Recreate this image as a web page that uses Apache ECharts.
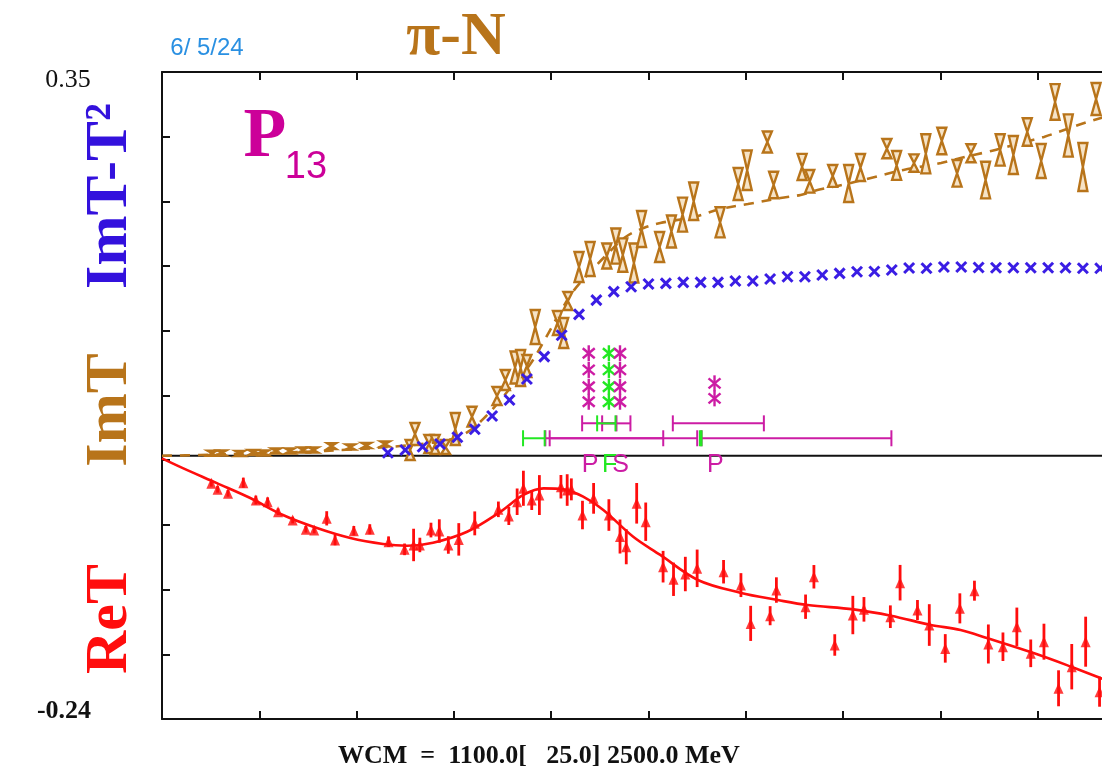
<!DOCTYPE html>
<html><head><meta charset="utf-8">
<script src="https://cdn.jsdelivr.net/npm/echarts@6/dist/echarts.min.js"></script>
<style>html,body{margin:0;padding:0;background:#fff}#c{width:1102px;height:774px}</style>
</head><body><div id="c"></div>
<script>
// ---------- data ----------
const xRange = [1100, 2500];          // WCM in MeV
const yRange = [-0.24, 0.35];
const yTickLabels = ['-0.24', '0.35'];
const axisDivisions = [0, 10];        // 10 equal divisions on both axes

// ImT - T^2 (blue crosses)
const blueMeV = [1425,1450,1475,1500,1525,1550,1575,1600,1625,1650,1675,1700,1725,1750,1775,1800,1825,1850,1875,1900,1925,1950,1975,2000,2025,2050,2075,2100,2125,2150,2175,2200,2225,2250,2275,2300,2325,2350,2375,2400,2425,2450,2475,2500];
const blueVal = [0.0028,0.0053,0.0083,0.0108,0.0169,0.0242,0.0363,0.0509,0.0700,0.0904,0.1100,0.1290,0.1420,0.1497,0.1542,0.1567,0.1573,0.1582,0.1582,0.1582,0.1594,0.1594,0.1612,0.1633,0.1633,0.1649,0.1664,0.1679,0.1681,0.1694,0.1713,0.1710,0.1722,0.1722,0.1717,0.1715,0.1715,0.1715,0.1715,0.1715,0.1710,0.1710,0.1705,0.1700];

// ImT data (hourglass error symbols)
const imtMeV = [1172,1186,1212,1231,1247,1264,1284,1303,1318,1344,1371,1394,1421,1457,1464,1484,1493,1508,1522,1546,1582,1594,1608,1616,1625,1637,1669,1678,1684,1700,1716,1740,1753,1763,1779,1790,1816,1833,1849,1865,1903,1929,1942,1971,1980,2021,2032,2065,2088,2105,2143,2157,2182,2199,2222,2244,2264,2285,2306,2325,2345,2365,2385,2404,2425,2444];
const imtVal = [0.0023,0.0026,0.0021,0.0030,0.0026,0.0044,0.0044,0.0053,0.0053,0.0089,0.0080,0.0094,0.0108,0.0053,0.0199,0.0108,0.0103,0.0080,0.0244,0.0357,0.0545,0.0691,0.0805,0.0801,0.0819,0.1175,0.1211,0.1120,0.1412,0.1722,0.1795,0.1822,0.1913,0.1831,0.1758,0.2068,0.1904,0.2046,0.2199,0.2321,0.2129,0.2479,0.2604,0.2862,0.2470,0.2634,0.2503,0.2552,0.2483,0.2629,0.2801,0.2648,0.2670,0.2754,0.2871,0.2576,0.2759,0.2515,0.2789,0.2743,0.2953,0.2689,0.3227,0.2921,0.2634,0.3254];
const imtErr = [0.0018,0.0018,0.0018,0.0018,0.0018,0.0018,0.0018,0.0023,0.0023,0.0027,0.0018,0.0018,0.0018,0.0091,0.0100,0.0082,0.0087,0.0064,0.0146,0.0091,0.0082,0.0091,0.0146,0.0164,0.0100,0.0155,0.0109,0.0137,0.0082,0.0137,0.0155,0.0114,0.0160,0.0152,0.0178,0.0164,0.0137,0.0146,0.0155,0.0171,0.0137,0.0146,0.0180,0.0096,0.0121,0.0119,0.0103,0.0100,0.0169,0.0123,0.0088,0.0132,0.0079,0.0178,0.0121,0.0121,0.0082,0.0167,0.0143,0.0173,0.0125,0.0155,0.0162,0.0193,0.0219,0.0146];

// ImT fit (dashed)
const imtFitMeV = [1100,1155,1227,1299,1371,1443,1486,1522,1544,1565,1587,1608,1630,1652,1673,1692,1716,1738,1767,1793,1817,1865,1904,1943,1990,2019,2043,2072,2091,2120,2167,2221,2249,2293,2336,2369,2398,2427,2451,2500];
const imtFitVal = [0,0.0007,0.0021,0.0035,0.0057,0.0089,0.0117,0.0162,0.0235,0.0354,0.0509,0.0673,0.0837,0.1074,0.1311,0.1503,0.1676,0.1822,0.1996,0.2077,0.2123,0.2178,0.2251,0.2296,0.2351,0.2379,0.2424,0.2461,0.2488,0.2534,0.2607,0.2670,0.2716,0.2780,0.2853,0.2908,0.2971,0.3035,0.3081,0.3170];

// ReT data (triangles with error bars)
const retMeV = [1171,1180,1195,1217,1235,1252,1267,1288,1307,1319,1337,1349,1376,1399,1426,1449,1462,1471,1487,1499,1512,1527,1550,1584,1599,1611,1620,1632,1643,1674,1683,1689,1705,1721,1743,1759,1768,1783,1796,1821,1836,1853,1870,1908,1933,1947,1975,1984,2026,2038,2068,2094,2110,2148,2162,2187,2204,2227,2248,2269,2289,2310,2330,2350,2369,2390,2409,2429,2449];
const retVal = [-0.0251,-0.0306,-0.0342,-0.0245,-0.0403,-0.0419,-0.0510,-0.0586,-0.0670,-0.0677,-0.0570,-0.0768,-0.0683,-0.0670,-0.0783,-0.0853,-0.0813,-0.0813,-0.0677,-0.0686,-0.0813,-0.0762,-0.0616,-0.0488,-0.0549,-0.0419,-0.0296,-0.0403,-0.0358,-0.0282,-0.0312,-0.0306,-0.0540,-0.0388,-0.0540,-0.0736,-0.0829,-0.0433,-0.0601,-0.1011,-0.1126,-0.1078,-0.1026,-0.1057,-0.1179,-0.1528,-0.1458,-0.1224,-0.1376,-0.1103,-0.1725,-0.1452,-0.1400,-0.1467,-0.1157,-0.1406,-0.1543,-0.1756,-0.1391,-0.1230,-0.1716,-0.1741,-0.1559,-0.1801,-0.1695,-0.2120,-0.1923,-0.1695,-0.2151];
const retErr = [0.003,0.003,0.003,0.0046,0.004,0.004,0.003,0.003,0.003,0.003,0.0065,0.0048,0.0043,0.0046,0.0048,0.0053,0.0148,0.0066,0.0067,0.0107,0.0080,0.0148,0.0109,0.0071,0.0082,0.0121,0.0160,0.0091,0.0182,0.0107,0.0144,0.0100,0.0130,0.0140,0.0144,0.0155,0.0160,0.0185,0.0175,0.0144,0.0152,0.0157,0.0171,0.0107,0.0109,0.0160,0.0087,0.0116,0.0111,0.0107,0.0098,0.0175,0.0112,0.0103,0.0162,0.0091,0.0190,0.0130,0.0137,0.0091,0.0178,0.0130,0.0175,0.0126,0.0164,0.0164,0.0207,0.0228,0.0137];

// ReT fit (solid)
const retFitMeV = [1100,1130,1179,1227,1274,1323,1371,1418,1453,1490,1539,1587,1620,1649,1678,1706,1735,1778,1817,1871,1932,1986,2029,2095,2149,2206,2249,2288,2355,2408,2451,2500];
const retFitVal = [-0.0023,-0.0112,-0.0249,-0.0385,-0.0540,-0.0659,-0.0750,-0.0804,-0.0820,-0.0792,-0.0692,-0.0510,-0.0357,-0.0297,-0.0306,-0.0373,-0.0494,-0.0738,-0.0904,-0.1132,-0.1248,-0.1315,-0.1361,-0.1400,-0.1458,-0.1542,-0.1588,-0.1664,-0.1801,-0.1923,-0.2028,-0.2150];

// resonance markers (asterisks)
const starMeV = [1714,1714,1714,1714,1743,1743,1743,1743,1759,1759,1759,1759,1895,1895];
const starVal = [0.0935,0.0783,0.0630,0.0493,0.0935,0.0783,0.0630,0.0493,0.0935,0.0783,0.0630,0.0493,0.0661,0.0524];
const starKind = ['m','m','m','m','g','g','g','g','m','m','m','m','m','m'];
// resonance width bars
const barFrom = [1704.5,1733.3,1835,1651.6,1657.8,1876.3,1726.1,1619.5,1874.0];
const barTo   = [1753.9,1774.0,1966,1821.2,1870.1,2149.5,1752.5,1650.6,1876.3];
const barVal  = [0.0296,0.0296,0.0296,0.0160,0.0160,0.0160,0.0296,0.0160,0.0160];
const barKind = ['m','m','m','m','m','m','g','g','g'];
// resonance labels
const labMeV = [1716,1744,1760,1896];
const labVal = [-0.0085,-0.0085,-0.0085,-0.0085];
const labText = ['P','F','S','P'];
const labKind = ['m','g','m','m'];

// ---------- styling ----------
const BROWN = '#b8741a', BLUE = '#3a1de4', RED = '#ff0d0d', MAG = '#cc1ca4', GRN = '#22e822';
const kindColor = k => k === 'g' ? GRN : MAG;
const SERIF = '"Liberation Serif", "DejaVu Serif", serif';
const SANS = '"Liberation Sans", "DejaVu Sans", sans-serif';

const chart = echarts.init(document.getElementById('c'), null, {renderer: 'canvas'});

const tickAxis = (pos) => ({
  type: 'value', position: pos, min: axisDivisions[0], max: axisDivisions[1], interval: 1,
  axisLine: {show: true, onZero: false, lineStyle: {color: '#111', width: 2}},
  axisTick: {show: true, inside: true, length: 8, lineStyle: {color: '#111', width: 2}},
  axisLabel: {show: false}, splitLine: {show: false}
});

const zip = (a, b) => a.map((v, i) => [v, b[i]]);
const zip3 = (a, b, c) => a.map((v, i) => [v, b[i], c[i]]);

const option = {
  animation: false,
  backgroundColor: '#fff',
  grid: {left: 162, top: 72, right: -33, bottom: 55, containLabel: false, outerBoundsMode: 'none'},
  xAxis: [
    {type: 'value', min: xRange[0], max: xRange[1], show: false},
    tickAxis('bottom'),
    tickAxis('top')
  ],
  yAxis: [
    {type: 'value', min: yRange[0], max: yRange[1], show: false},
    tickAxis('left')
  ],
  series: [
    { // zero line
      type: 'line', xAxisIndex: 0, yAxisIndex: 0, z: 1,
      data: [[xRange[0], 0], [xRange[1], 0]], showSymbol: false, silent: true,
      lineStyle: {color: '#111', width: 2}
    },
    { // ImT fit (dashed)
      type: 'line', xAxisIndex: 0, yAxisIndex: 0, z: 2, smooth: 0.35,
      data: zip(imtFitMeV, imtFitVal), showSymbol: false,
      lineStyle: {color: BROWN, width: 2.6, type: [10, 8]}
    },
    { // ImT data hourglasses
      type: 'custom', xAxisIndex: 0, yAxisIndex: 0, z: 3,
      data: zip3(imtMeV, imtVal, imtErr),
      renderItem: (params, api) => {
        const x = api.value(0), y = api.value(1), e = api.value(2);
        const c = api.coord([x, y]);
        let top = api.coord([x, y + e])[1], bot = api.coord([x, y - e])[1];
        if (bot - top < 5) { top = c[1] - 2.5; bot = c[1] + 2.5; }
        const w = 4.5;
        return {type: 'polygon',
          shape: {points: [[c[0]-w, top], [c[0]+w, top], [c[0], c[1]], [c[0]+w, bot], [c[0]-w, bot], [c[0], c[1]]]},
          style: {fill: '#f6e3c6', stroke: BROWN, lineWidth: 2.4}};
      }
    },
    { // ImT - T^2 crosses
      type: 'custom', xAxisIndex: 0, yAxisIndex: 0, z: 4,
      data: zip(blueMeV, blueVal),
      renderItem: (params, api) => {
        const c = api.coord([api.value(0), api.value(1)]);
        const s = 5;
        const st = {stroke: BLUE, lineWidth: 3};
        return {type: 'group', children: [
          {type: 'line', shape: {x1: c[0]-s, y1: c[1]-s, x2: c[0]+s, y2: c[1]+s}, style: st},
          {type: 'line', shape: {x1: c[0]-s, y1: c[1]+s, x2: c[0]+s, y2: c[1]-s}, style: st}
        ]};
      }
    },
    { // resonance width bars
      type: 'custom', xAxisIndex: 0, yAxisIndex: 0, z: 5,
      data: barFrom.map((v, i) => [v, barTo[i], barVal[i], i]),
      renderItem: (params, api) => {
        const a = api.coord([api.value(0), api.value(2)]);
        const b = api.coord([api.value(1), api.value(2)]);
        const col = kindColor(barKind[api.value(3)]);
        const st = {stroke: col, lineWidth: 2};
        const h = 8;
        return {type: 'group', children: [
          {type: 'line', shape: {x1: a[0], y1: a[1], x2: b[0], y2: b[1]}, style: st},
          {type: 'line', shape: {x1: a[0], y1: a[1]-h, x2: a[0], y2: a[1]+h}, style: st},
          {type: 'line', shape: {x1: b[0], y1: b[1]-h, x2: b[0], y2: b[1]+h}, style: st}
        ]};
      }
    },
    { // resonance asterisks
      type: 'custom', xAxisIndex: 0, yAxisIndex: 0, z: 6,
      data: starMeV.map((v, i) => [v, starVal[i], i]),
      renderItem: (params, api) => {
        const c = api.coord([api.value(0), api.value(1)]);
        const col = kindColor(starKind[api.value(2)]);
        const st = {stroke: col, lineWidth: 2.4};
        return {type: 'group', children: [
          {type: 'line', shape: {x1: c[0], y1: c[1]-8, x2: c[0], y2: c[1]+8}, style: st},
          {type: 'line', shape: {x1: c[0]-6, y1: c[1]-5, x2: c[0]+6, y2: c[1]+5}, style: st},
          {type: 'line', shape: {x1: c[0]-6, y1: c[1]+5, x2: c[0]+6, y2: c[1]-5}, style: st}
        ]};
      }
    },
    { // resonance labels
      type: 'custom', xAxisIndex: 0, yAxisIndex: 0, z: 6,
      data: labMeV.map((v, i) => [v, labVal[i], i]),
      renderItem: (params, api) => {
        const c = api.coord([api.value(0), api.value(1)]);
        const i = api.value(2);
        return {type: 'text', x: c[0], y: c[1],
          style: {text: labText[i], fill: kindColor(labKind[i]), font: '25px ' + SANS, align: 'center', verticalAlign: 'middle'}};
      }
    },
    { // ReT fit
      type: 'line', xAxisIndex: 0, yAxisIndex: 0, z: 7, smooth: 0.35,
      data: zip(retFitMeV, retFitVal), showSymbol: false,
      lineStyle: {color: RED, width: 2.6}
    },
    { // ReT error bars
      type: 'custom', xAxisIndex: 0, yAxisIndex: 0, z: 8,
      data: zip3(retMeV, retVal, retErr),
      renderItem: (params, api) => {
        const x = api.value(0), y = api.value(1), e = api.value(2);
        const t = api.coord([x, y + e]), b = api.coord([x, y - e]);
        return {type: 'line', shape: {x1: t[0], y1: t[1], x2: b[0], y2: b[1]}, style: {stroke: RED, lineWidth: 2.8}};
      }
    },
    { // ReT triangles
      type: 'scatter', xAxisIndex: 0, yAxisIndex: 0, z: 9,
      data: zip(retMeV, retVal), symbol: 'triangle', symbolSize: [10, 11],
      itemStyle: {color: RED}
    }
  ],
  graphic: [
    {type: 'text', x: 207, y: 48, style: {text: '6/ 5/24', fill: '#2a90e2', font: '24px ' + SANS, align: 'center', verticalAlign: 'middle'}},
    {type: 'text', x: 456, y: 38, style: {text: 'π-N', fill: BROWN, font: 'bold 62px ' + SERIF, align: 'center', verticalAlign: 'middle'}},
    {type: 'text', x: 265, y: 138, style: {text: 'P', fill: '#cc0099', font: 'bold 70px ' + SERIF, align: 'center', verticalAlign: 'middle'}},
    {type: 'text', x: 306, y: 168, style: {text: '13', fill: '#cc0099', font: '38px ' + SANS, align: 'center', verticalAlign: 'middle'}},
    {type: 'text', x: 68, y: 80, style: {text: yTickLabels[1], fill: '#111', font: '26px ' + SERIF, align: 'center', verticalAlign: 'middle'}},
    {type: 'text', x: 64, y: 711, style: {text: yTickLabels[0], fill: '#111', font: 'bold 26px ' + SERIF, align: 'center', verticalAlign: 'middle'}},
    {type: 'text', x: 110, y: 196, rotation: Math.PI / 2, style: {text: 'ImT-T²', fill: '#3311dd', font: 'bold 60px ' + SERIF, align: 'center', verticalAlign: 'middle'}},
    {type: 'text', x: 110, y: 410, rotation: Math.PI / 2, style: {text: 'ImT', fill: BROWN, font: 'bold 60px ' + SERIF, align: 'center', verticalAlign: 'middle'}},
    {type: 'text', x: 110, y: 619, rotation: Math.PI / 2, style: {text: 'ReT', fill: RED, font: 'bold 60px ' + SERIF, align: 'center', verticalAlign: 'middle'}},
    {type: 'text', x: 338, y: 756, style: {text: 'WCM  =  1100.0[   25.0] 2500.0 MeV', fill: '#111', font: 'bold 26px ' + SERIF, align: 'left', verticalAlign: 'middle'}}
  ]
};
chart.setOption(option);
</script>
</body></html>
